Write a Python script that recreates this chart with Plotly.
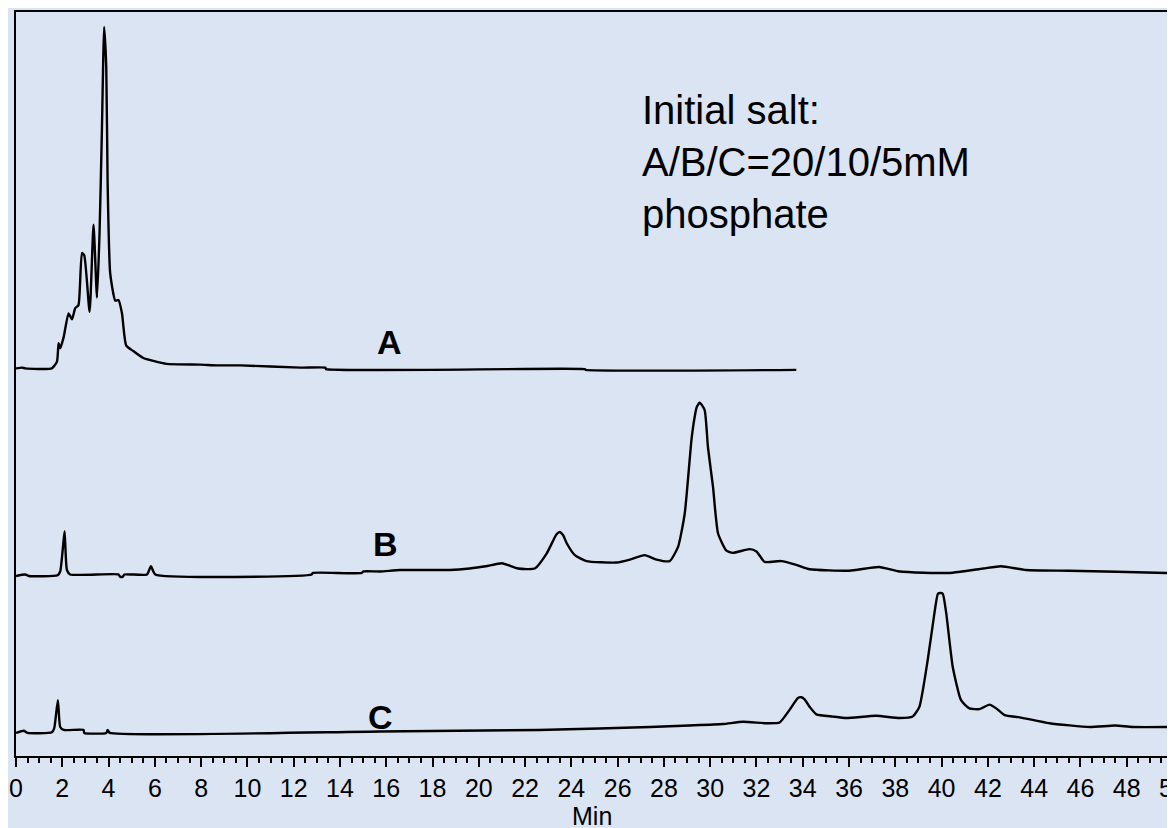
import plotly.graph_objects as go

# Retention time (min) and detector signal (stacked, arbitrary units)
A_t = [0.0, 0.26, 0.4, 1.55, 1.77, 1.84, 1.91, 2.06, 2.27, 2.42, 2.56, 2.70, 2.85, 2.95,
       3.18, 3.35, 3.50, 3.61, 3.71, 3.81, 3.90, 3.96, 4.07, 4.29, 4.43, 4.58, 4.76, 5.08,
       5.5, 5.94, 6.5, 7.96, 8.7, 9.7, 12.3, 13.37, 13.4, 24.58, 24.62, 33.72]
A_y = [52.1, 52.2, 52.1, 52.1, 53.0, 55.5, 54.8, 56.3, 59.5, 58.7, 60.2, 60.6, 67.6, 67.3,
       59.7, 71.4, 61.6, 70.3, 83.7, 98.0, 92.6, 77.0, 64.9, 61.2, 61.3, 59.5, 55.2, 54.4,
       53.5, 53.1, 52.7, 52.6, 52.5, 52.5, 52.2, 52.2, 52.0, 52.0, 51.9, 51.9]

B_t = [0.0, 0.4, 0.55, 1.80, 1.91, 2.03, 2.10, 2.20, 2.34, 4.43, 4.5, 4.62, 4.68, 5.66,
       5.83, 6.02, 12.78, 12.82, 14.94, 15.0, 15.73, 16.6, 18.75, 19.6, 20.3, 21.0, 21.7,
       22.42, 22.93, 23.36, 23.5, 23.64, 23.8, 24.15, 24.65, 25.95, 26.53, 27.17, 27.68,
       28.25, 28.61, 28.9, 29.19, 29.33, 29.42, 29.55, 29.76, 29.9, 30.12, 30.34, 30.7,
       30.98, 31.7, 32.0, 32.35, 33.07, 33.72, 34.3, 36.0, 37.3, 38.18, 40.34, 41.8,
       42.57, 43.65, 45.5, 49.7, 50.0]
B_y = [24.2, 24.4, 24.2, 24.3, 24.8, 28.1, 30.2, 25.0, 24.4, 24.4, 24.1, 24.1, 24.4, 24.4,
       25.5, 24.4, 24.4, 24.6, 24.6, 24.8, 24.8, 25.0, 25.0, 25.2, 25.5, 25.9, 25.2,
       25.2, 27.2, 29.8, 30.1, 29.7, 28.6, 27.0, 26.2, 26.0, 26.4, 27.0, 26.4,
       26.2, 28.1, 32.6, 42.5, 45.6, 46.9, 47.5, 46.5, 41.6, 36.2, 29.9, 27.6,
       27.3, 27.8, 27.5, 26.1, 26.2, 25.7, 25.1, 24.9, 25.4, 24.8, 24.6, 25.2,
       25.5, 25.0, 24.9, 24.6, 24.5]

C_t = [0.0, 0.33, 0.5, 1.55, 1.65, 1.81, 1.91, 2.06, 2.92, 2.95, 3.9, 3.96, 4.05, 15.73,
       22.6, 25.2, 27.4, 29.1, 30.55, 31.42, 32.42, 33.0, 33.43, 33.79, 33.94, 34.08, 34.3,
       34.59, 35.3, 35.88, 37.17, 38.18, 38.75, 39.04, 39.4, 39.69, 39.84, 39.94, 40.05,
       40.2, 40.48, 40.84, 41.2, 41.64, 42.07, 42.36, 42.72, 43.37, 44.66, 46.4, 47.5,
       48.25, 50.0]
C_y = [3.1, 3.4, 3.1, 3.2, 3.7, 7.5, 3.9, 3.5, 3.5, 3.1, 3.1, 3.5, 3.1, 3.3,
       3.5, 3.7, 3.9, 4.1, 4.3, 4.6, 4.4, 4.5, 6.2, 7.8, 7.9, 7.6, 6.6,
       5.6, 5.3, 5.1, 5.4, 5.1, 5.3, 6.6, 12.9, 19.2, 21.8, 21.9, 21.8,
       19.2, 12.0, 7.5, 6.4, 6.3, 6.9, 6.4, 5.5, 5.2, 4.4, 3.9, 4.1,
       3.9, 3.9]

trace_names = ["A", "B", "C"]
label_x = [16.12, 15.95, 15.77]
label_y = [55.6, 28.5, 5.2]
x_ticks = list(range(0, 51, 2))
x_title = "Min"
note_text = "Initial salt:<br>A/B/C=20/10/5mM<br>phosphate"

BG = "rgb(219,228,243)"
FONT = "Arial, Liberation Sans, sans-serif"

fig = go.Figure()
for name, t, y in zip(trace_names, [A_t, B_t, C_t], [A_y, B_y, C_y]):
    fig.add_trace(go.Scatter(x=t, y=y, mode="lines", name=name,
                             line=dict(color="black", width=2.4, shape="spline", smoothing=0.5),
                             showlegend=False))

for name, lx, ly in zip(trace_names, label_x, label_y):
    fig.add_annotation(x=lx, y=ly, xref="x", yref="y", text="<b>%s</b>" % name,
                       showarrow=False, font=dict(family=FONT, size=34, color="black"))

fig.add_annotation(x=26.95, y=90.05, xref="x", yref="y", text=note_text, showarrow=False,
                   xanchor="left", yanchor="top", align="left",
                   font=dict(family=FONT, size=40, color="black"))

fig.add_annotation(x=24.9, y=0, xref="x", yref="paper", yshift=-60, text=x_title,
                   showarrow=False, xanchor="center", yanchor="middle",
                   font=dict(family=FONT, size=25, color="black"))

# the page adds an 8px body margin, so the figure is sized to fit inside the window
fig.update_layout(
    width=1167, height=820,
    paper_bgcolor=BG, plot_bgcolor=BG,
    margin=dict(l=8, r=2, t=4, b=72, autoexpand=False),
    font=dict(family=FONT, size=25, color="black"),
    xaxis=dict(range=[0, 50], tickvals=x_ticks, ticktext=[str(v) for v in x_ticks],
               ticks="outside", ticklen=9, tickwidth=2, tickcolor="black",
               minor=dict(dtick=0.5, ticks="outside", ticklen=5, tickwidth=1.5, tickcolor="black"),
               showline=True, linewidth=2, linecolor="black", mirror=True,
               showgrid=False, zeroline=False, automargin=False,
               ticklabeloverflow="allow",
               tickfont=dict(family=FONT, size=25, color="black")),
    yaxis=dict(range=[0, 100], showticklabels=False, ticks="",
               showline=True, linewidth=2, linecolor="black", mirror=True,
               showgrid=False, zeroline=False, automargin=False),
)

fig.write_html("out.html")
